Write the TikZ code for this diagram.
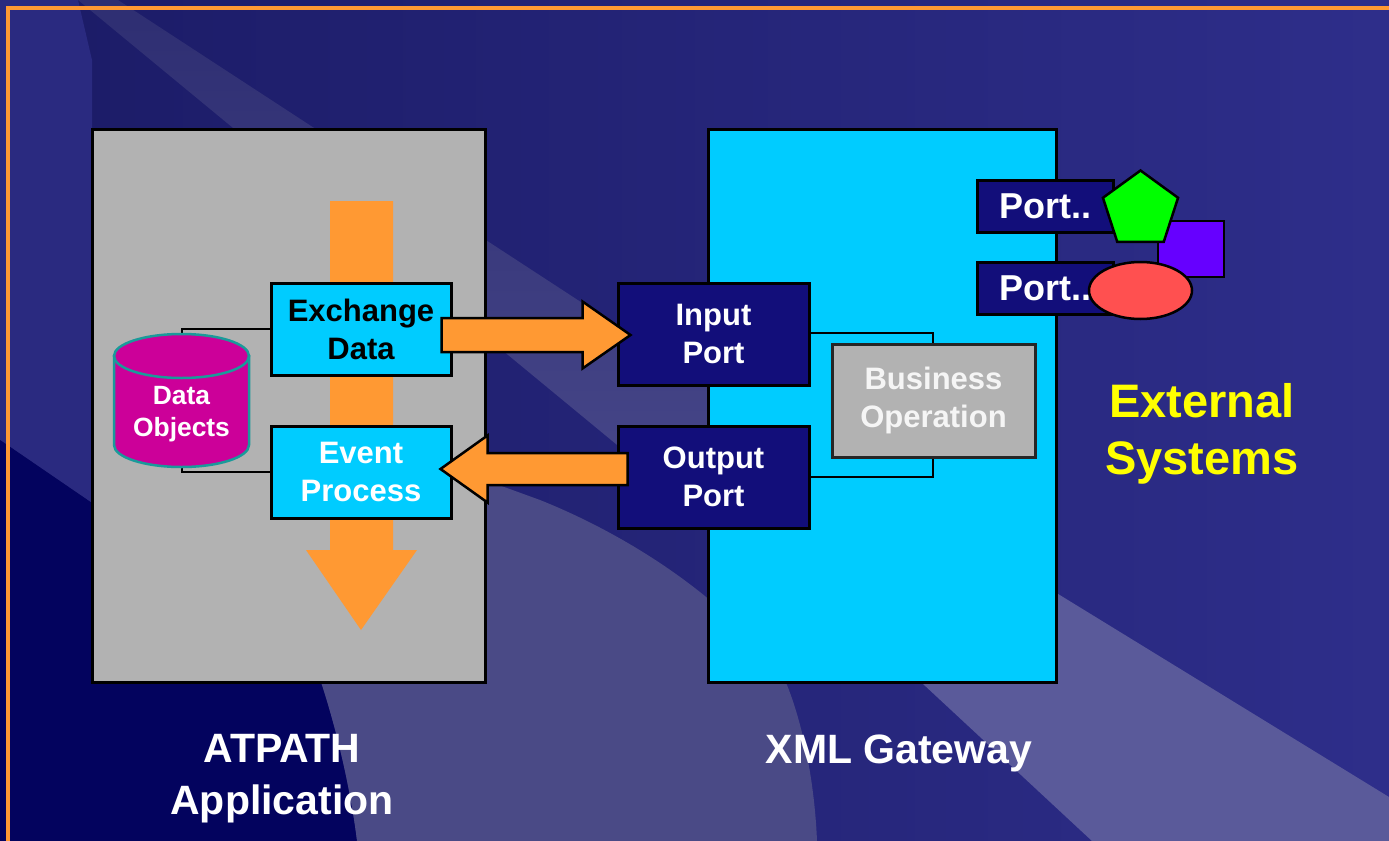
\documentclass[tikz,border=0pt]{standalone}
\usepackage{fontspec}
\setmainfont{Liberation Sans}
\usetikzlibrary{calc,shapes.geometric}

\definecolor{bgleft}{HTML}{1B1B66}
\definecolor{bgright}{HTML}{2E2E8A}
\definecolor{stripblue}{HTML}{2A2A80}
\definecolor{darknavy}{HTML}{03035E}
\definecolor{beamtop}{HTML}{2E2E72}
\definecolor{beambottom}{HTML}{48488A}
\definecolor{glowblue}{HTML}{4A4A86}
\definecolor{bandblue}{HTML}{5A5A9A}
\definecolor{frameorange}{HTML}{FF9933}
\definecolor{boxgray}{HTML}{B2B2B2}
\definecolor{gwcyan}{HTML}{00CCFF}
\definecolor{portnavy}{HTML}{120E7A}
\definecolor{dbpink}{HTML}{CC0099}
\definecolor{dbrim}{HTML}{1A9A9A}
\definecolor{pentgreen}{HTML}{00FF00}
\definecolor{sqpurple}{HTML}{6600FF}
\definecolor{ovalred}{HTML}{FF5050}
\definecolor{labyellow}{HTML}{FFFF00}

\begin{document}
\begin{tikzpicture}[x=0.5pt,y=-0.5pt,
  every node/.style={inner sep=0pt,font=\bfseries},
  block/.style={draw=black,line width=1.5pt,rectangle},
  taskbox/.style={block,fill=gwcyan,minimum width=90pt,minimum height=46pt,align=center,font=\fontsize{15.5}{19}\selectfont\bfseries},
  portbox/.style={block,fill=portnavy,text=white,minimum width=95.5pt,minimum height=51pt,align=center,font=\fontsize{15.5}{19}\selectfont\bfseries},
  extport/.style={block,fill=portnavy,text=white,minimum width=68pt,minimum height=26pt,font=\fontsize{18}{22}\selectfont\bfseries},
  caption/.style={text=white,align=center,font=\fontsize{20.5}{26}\selectfont\bfseries},
  link/.style={draw=black,line width=1pt},
  flow/.style={fill=frameorange,draw=black,line width=1.25pt,line join=miter}]
\useasboundingbox (0,0) rectangle (1389,841);
% background
\shade[left color=bgleft,right color=bgright] (0,0) rectangle (1389,841);
\fill[stripblue] (0,0) -- (78,0) -- (92,60) -- (92,503) -- (0,440) -- cycle;
\shade[top color=beamtop,bottom color=beambottom] (78,0) -- (118,0) -- (708,385) -- (708,520) -- cycle;
\fill[darknavy] (0,440) -- (92,503) -- (321,660) -- (321,682) .. controls (340,740) and (352,800) .. (357,841) -- (0,841) -- cycle;
\fill[glowblue] (321,682) -- (321,480) -- (485,480) -- (540,500) .. controls (640,540) and (740,610) .. (787,685) .. controls (805,730) and (815,790) .. (817,841) -- (357,841) .. controls (352,800) and (340,740) .. (321,682) -- cycle;
\fill[bandblue] (900,497) -- (1389,797) -- (1389,841) -- (1092,841) -- (880,644) -- cycle;
\draw[frameorange,line width=2pt] (8,841) -- (8,8) -- (1389,8);

% the two main blocks
\node[block,fill=boxgray,minimum width=196.5pt,minimum height=276.5pt] (app) at (288.5,405.5) {};
\node[block,fill=gwcyan,minimum width=174pt,minimum height=276.5pt] (gw) at (882,405.5) {};
\fill[frameorange] (330,201) -- (393,201) -- (393,550) -- (417,550) -- (361,630) -- (306,550) -- (330,550) -- cycle;

% application side
\node[minimum width=67.5pt,minimum height=67pt] (db) at (181.5,400.5) {};
\node[taskbox] (exch) at (361,329) {Exchange\\Data};
\node[taskbox,text=white] (event) at (361,472) {Event\\Process};
\draw[link] (exch.west) -| (db.north);
\draw[link] (event.west) -| (db.south);
\filldraw[fill=dbpink,draw=dbrim,line width=1.25pt] (114,356) -- (114,445) arc[start angle=180,end angle=0,x radius=67.5,y radius=22] -- (249,356) -- cycle;
\filldraw[fill=dbpink,draw=dbrim,line width=1.25pt] (181.5,356) ellipse [x radius=67.5,y radius=22];
\node[text=white,align=center,font=\fontsize{13.2}{16}\selectfont\bfseries] (dbtext) at (181.5,414) {Data\\Objects};

% gateway side
\draw[link,line width=1.25pt] (809,333) -| (933,477) -- (809,477);
\node[portbox] (inp) at (713.5,334) {Input\\Port};
\node[portbox] (out) at (713.5,477) {Output\\Port};
\node[block,draw=black!85,fill=boxgray,text=white!96!black,minimum width=101.5pt,minimum height=56.5pt,align=center,font=\fontsize{15.5}{19}\selectfont\bfseries] (biz) at (933.5,400.5) {Business\\Operation};

% external systems
\node[extport] (p1) at (1045,206) {Port..};
\node[extport] (p2) at (1045,288) {Port..};
\node[block,line width=1.25pt,fill=sqpurple,minimum width=33pt,minimum height=28pt] (sq) at (1191,249) {};
\node[regular polygon,regular polygon sides=5,draw=black,line width=1.25pt,fill=pentgreen,minimum size=39.5pt] (pent) at (1140.5,210) {};
\node[ellipse,draw=black,line width=1.25pt,fill=ovalred,minimum width=51.5pt,minimum height=28.5pt] (oval) at (1140.5,290.5) {};

% exchange arrows
\coordinate (r0) at ($(exch.east)+(-11,6)$);
\coordinate (r1) at ($(inp.west)+(14,1)$);
\draw[flow] ($(r0)+(0,-17)$) -- ($(r1)+(-48,-17)$) -- ($(r1)+(-48,-33.5)$) -- (r1) -- ($(r1)+(-48,33.5)$) -- ($(r1)+(-48,17)$) -- ($(r0)+(0,17)$) -- cycle;
\coordinate (l0) at ($(out.west)+(11,-8)$);
\coordinate (l1) at ($(event.east)+(-12,-3)$);
\draw[flow] ($(l0)+(0,-16)$) -- ($(l1)+(47,-16)$) -- ($(l1)+(47,-33.5)$) -- (l1) -- ($(l1)+(47,33.5)$) -- ($(l1)+(47,16)$) -- ($(l0)+(0,16)$) -- cycle;

% captions
\node[caption] (applab) at (282,779) {ATPATH\\Application};
\node[caption,anchor=base] (gwlab) at (899,763) {XML Gateway};
\node[caption,text=labyellow,font=\fontsize{23.5}{28.5}\selectfont\bfseries] (extlab) at (1202,433.5) {External\\Systems};
\end{tikzpicture}
\end{document}
